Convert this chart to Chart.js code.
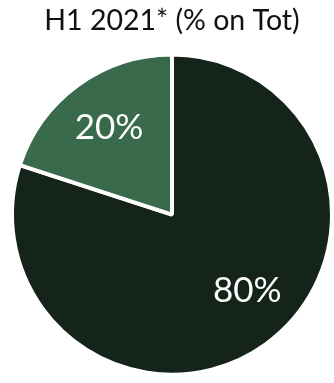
<!DOCTYPE html>
<html>
<head>
<meta charset="utf-8">
<script src="https://cdn.jsdelivr.net/npm/chart.js@4.4.0/dist/chart.umd.min.js"></script>
<style>
  html, body { margin: 0; padding: 0; background: #fff; }
  #wrap { width: 334px; height: 383px; }
</style>
</head>
<body>
<div id="wrap"><canvas id="myChart"></canvas></div>
<script>
const labels = ["Other", "Share"];
const shares = [80, 20];
const colors = ["#15241a", "#3a6a4c"];
const titleText = "H1 2021* (% on Tot)";

// angle nudge (radians) for each slice label, big slice sits a bit higher
const labelNudge = [-0.15, 0];

// writes the percentage inside each slice
const sliceLabels = {
  id: "sliceLabels",
  afterDatasetsDraw(chart) {
    const ctx = chart.ctx;
    const meta = chart.getDatasetMeta(0);
    ctx.save();
    ctx.fillStyle = "#ffffff";
    ctx.font = "normal 35px Lato";
    ctx.textAlign = "center";
    ctx.textBaseline = "middle";
    meta.data.forEach((arc, i) => {
      const mid = (arc.startAngle + arc.endAngle) / 2 + labelNudge[i];
      const r = arc.outerRadius * 0.67;
      const x = arc.x + Math.cos(mid) * r;
      const y = arc.y + Math.sin(mid) * r;
      ctx.fillText(shares[i] + "%", x, y);
    });
    ctx.restore();
  },
};

const ctx = document.getElementById("myChart").getContext("2d");
const myChart = new Chart(ctx, {
  type: "pie",
  data: {
    labels: labels,
    datasets: [
      {
        data: shares,
        backgroundColor: colors,
        borderColor: "#ffffff",
        borderWidth: 4,
      },
    ],
  },
  options: {
    animation: false,
    responsive: true,
    maintainAspectRatio: false,
    layout: {
      padding: { left: 10, right: 0, top: 0, bottom: 6 },
    },
    plugins: {
      legend: { display: false },
      tooltip: { enabled: false },
      title: {
        display: true,
        text: titleText,
        color: "#111111",
        font: { family: "Lato", size: 28.5, weight: "normal" },
        padding: { top: 4, bottom: 14 },
      },
    },
  },
  plugins: [sliceLabels],
});
</script>
</body>
</html>
